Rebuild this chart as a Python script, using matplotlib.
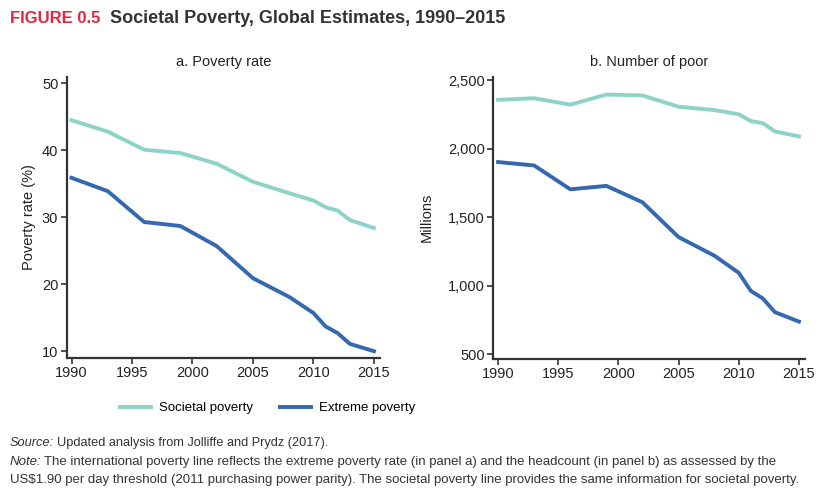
import matplotlib
matplotlib.use("Agg")
import matplotlib.pyplot as plt
from matplotlib import font_manager as fm

years = [1990, 1993, 1996, 1999, 2002, 2005, 2008, 2010, 2011, 2012, 2013, 2015]
rate_societal = [44.5, 42.8, 40.1, 39.6, 38.0, 35.3, 33.6, 32.5, 31.5, 31.0, 29.6, 28.4]
rate_extreme = [35.9, 33.9, 29.3, 28.7, 25.7, 20.9, 18.1, 15.7, 13.7, 12.7, 11.1, 10.0]
num_societal = [2356, 2368, 2321, 2395, 2388, 2306, 2281, 2251, 2201, 2186, 2126, 2089]
num_extreme = [1902, 1877, 1703, 1728, 1608, 1354, 1217, 1093, 961, 906, 806, 737]
xticks = [1990, 1995, 2000, 2005, 2010, 2015]
rate_ticks = [10, 20, 30, 40, 50]
num_ticks = [500, 1000, 1500, 2000, 2500]
num_tick_labels = ["500", "1,000", "1,500", "2,000", "2,500"]

names = {f.name for f in fm.fontManager.ttflist}
narrow = "Liberation Sans Narrow" if "Liberation Sans Narrow" in names else "Liberation Sans"
plt.rcParams['font.family'] = [narrow, 'DejaVu Sans']

teal = "#8DD3C8"
blue = "#3468B0"
dark = "#333333"

fig = plt.figure(figsize=(8.16, 4.95), dpi=100)
axa = fig.add_axes([0.0817, 0.277, 0.384, 0.568])
axb = fig.add_axes([0.6045, 0.275, 0.382, 0.570])

def style(ax):
    for s in ['top', 'right']:
        ax.spines[s].set_visible(False)
    for s in ['left', 'bottom']:
        ax.spines[s].set_color(dark)
        ax.spines[s].set_linewidth(1.6)
    ax.tick_params(direction='out', length=4, width=1.2, color=dark, labelsize=10.5, labelcolor="#222222", pad=2)
    ax.set_xticks(xticks)
    ax.set_xlim(1989.6, 2015.5)

axa.plot(years, rate_societal, color=teal, lw=2.8)
axa.plot(years, rate_extreme, color=blue, lw=2.8)
style(axa)
axa.set_ylim(9, 51)
axa.set_yticks(rate_ticks)
axa.set_ylabel("Poverty rate (%)", fontsize=10.5, color="#222222", labelpad=4)
axa.set_title("a. Poverty rate", fontsize=10.5, color="#222222", pad=8)

l1, = axb.plot(years, num_societal, color=teal, lw=2.8)
l2, = axb.plot(years, num_extreme, color=blue, lw=2.8)
style(axb)
axb.set_ylim(465, 2525)
axb.set_yticks(num_ticks)
axb.set_yticklabels(num_tick_labels)
axb.set_ylabel("Millions", fontsize=10.5, color="#222222", labelpad=10)
axb.set_title("b. Number of poor", fontsize=10.5, color="#222222", pad=8)

fig.legend([l1, l2], ["Societal poverty", "Extreme poverty"], loc="center",
           bbox_to_anchor=(0.328, 0.175), ncol=2, frameon=False, fontsize=9.5,
           handlelength=2.4, columnspacing=2.0, handletextpad=0.6)

# title
fig.canvas.draw()
r = fig.canvas.get_renderer()
t1 = fig.text(0.012, 0.963, "FIGURE 0.5", color="#E3263C", fontsize=12, fontweight="bold", va="center")
bb = t1.get_window_extent(r)
fig.text((bb.x1 + 10) / fig.bbox.width, 0.963, "Societal Poverty, Global Estimates, 1990\u20132015",
         color="#333333", fontsize=13, fontweight="bold", va="center")

def two_part(x, y, first, rest, size=9.5):
    t = fig.text(x, y, first, fontsize=size, style="italic", color="#333333", va="center")
    b = t.get_window_extent(r)
    fig.text((b.x1 + 3) / fig.bbox.width, y, rest, fontsize=size, color="#333333", va="center")

two_part(0.012, 0.105, "Source:", "Updated analysis from Jolliffe and Prydz (2017).", size=9.2)
two_part(0.012, 0.067, "Note:", "The international poverty line reflects the extreme poverty rate (in panel a) and the headcount (in panel b) as assessed by the")
fig.text(0.012, 0.030, "US$1.90 per day threshold (2011 purchasing power parity). The societal poverty line provides the same information for societal poverty.",
         fontsize=9.5, color="#333333", va="center")

fig.savefig("out.png", dpi=100)
